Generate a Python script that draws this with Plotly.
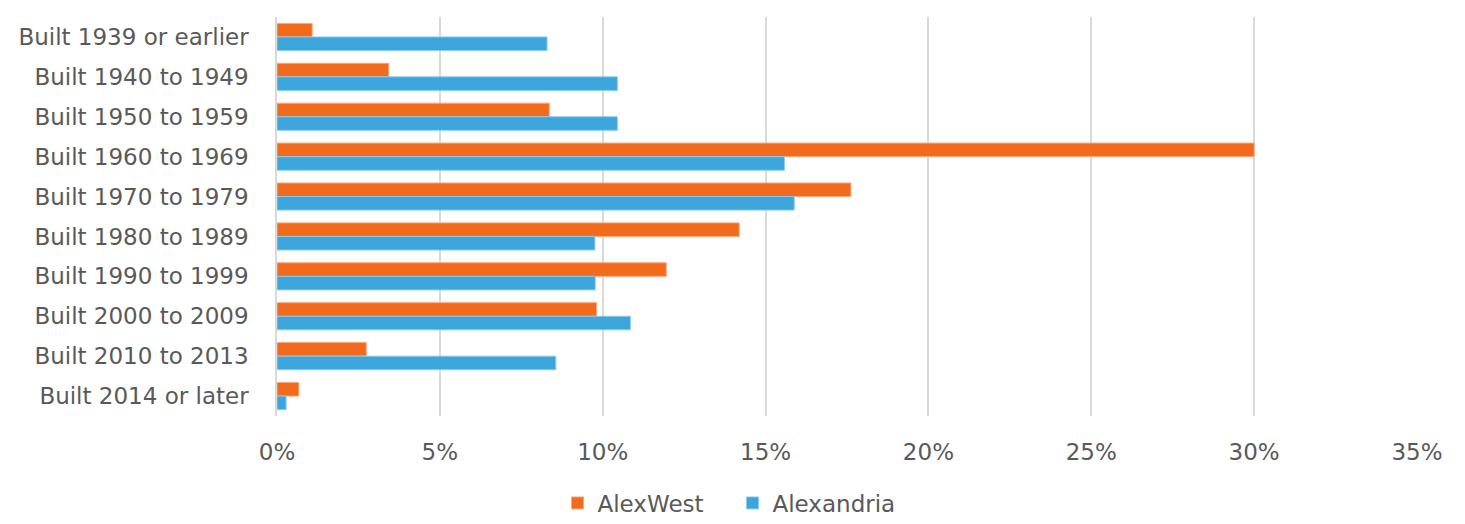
import plotly.graph_objects as go

categories = ["Built 1939 or earlier", "Built 1940 to 1949", "Built 1950 to 1959",
              "Built 1960 to 1969", "Built 1970 to 1979", "Built 1980 to 1989",
              "Built 1990 to 1999", "Built 2000 to 2009", "Built 2010 to 2013",
              "Built 2014 or later"]
alexwest = [1.08, 3.43, 8.36, 30.0, 17.62, 14.19, 11.95, 9.81, 2.74, 0.67]
alexandria = [8.29, 10.45, 10.45, 15.58, 15.88, 9.76, 9.77, 10.85, 8.56, 0.28]
x_ticks = [0, 5, 10, 15, 20, 25, 30, 35]
x_tick_labels = ["0%", "5%", "10%", "15%", "20%", "25%", "30%", "35%"]

fig = go.Figure()
fig.add_trace(go.Bar(name="AlexWest", y=categories, x=alexwest, orientation="h",
                     marker=dict(color="#F26A1B", line=dict(color="#F8A77C", width=1))))
fig.add_trace(go.Bar(name="Alexandria", y=categories, x=alexandria, orientation="h",
                     marker=dict(color="#3BA5DC", line=dict(color="#8DCCEE", width=1))))

font_family = "DejaVu Sans, Verdana, sans-serif"
W, H = 1449, 508
fig.update_layout(
    width=W, height=H,
    margin=dict(l=269, r=40, t=9, b=100),
    barmode="group", bargap=0.32, bargroupgap=0,
    plot_bgcolor="white", paper_bgcolor="white",
    font=dict(family=font_family, size=23, color="#595959"),
    legend=dict(orientation="h", xref="container", yref="container",
                x=0.5, xanchor="center", y=1 - 495 / H, yanchor="middle",
                entrywidth=130,
                font=dict(size=23, color="#595959"), traceorder="normal"),
    xaxis=dict(range=[0, 35], tickvals=x_ticks, ticktext=x_tick_labels,
               showgrid=True, gridcolor="#D9D9D9", gridwidth=1.5, zeroline=False,
               showline=False, ticks="", ticklen=0, tickfont=dict(size=23),
               automargin=False, ticklabelstandoff=20),
    yaxis=dict(autorange="reversed", showline=True, linecolor="#D9D9D9", linewidth=1.5,
               ticks="", ticklen=0, tickfont=dict(size=23), automargin=False,
               ticklabelstandoff=22),
)
fig.write_html("out.html")
